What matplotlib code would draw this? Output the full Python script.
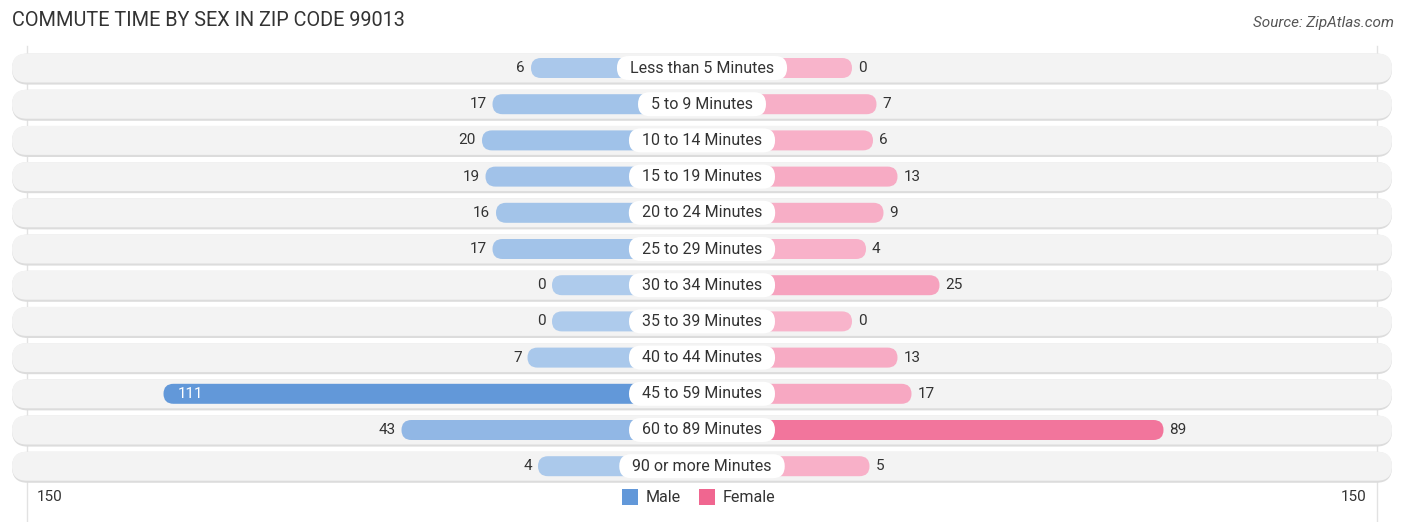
import matplotlib.pyplot as plt
from matplotlib.patches import FancyBboxPatch
import numpy as np

categories = ["Less than 5 Minutes", "5 to 9 Minutes", "10 to 14 Minutes", "15 to 19 Minutes",
              "20 to 24 Minutes", "25 to 29 Minutes", "30 to 34 Minutes", "35 to 39 Minutes",
              "40 to 44 Minutes", "45 to 59 Minutes", "60 to 89 Minutes", "90 or more Minutes"]
male = [6, 17, 20, 19, 16, 17, 0, 0, 7, 111, 43, 4]
female = [0, 7, 6, 13, 9, 4, 25, 0, 13, 17, 89, 5]
axis_max = 150

plt.rcParams['font.family'] = ['Roboto', 'DejaVu Sans']

PX = 3.5          # pixels per unit
CENTER = 702      # pixel of center
OFF = 150 / PX    # base width under the label (units)
ROW0, ROWSTEP = 68, 36.2

fig = plt.figure(figsize=(14.06, 5.22), dpi=100)
ax = fig.add_axes([0, 0, 1, 1])
ax.set_xlim(-CENTER / PX, (1406 - CENTER) / PX)
ax.set_ylim((522 - ROW0) / ROWSTEP, -ROW0 / ROWSTEP)
ax.axis('off')

# aspect so that round ends are circles in pixels
asp = PX / ROWSTEP


def mix(c1, c2, t):
    a = np.array(plt.matplotlib.colors.to_rgb(c1))
    b = np.array(plt.matplotlib.colors.to_rgb(c2))
    return tuple(a + (b - a) * t)


def pill(x0, x1, y, h_px, **kw):
    h = h_px / ROWSTEP
    r = (h_px / 2) / PX
    p = FancyBboxPatch((x0, y - h / 2), x1 - x0, h,
                       boxstyle=f"round,pad=0,rounding_size={r}",
                       mutation_aspect=asp, **kw)
    ax.add_patch(p)
    return p


edge = OFF + axis_max
# grid lines at +-150
for gx in (-edge, edge):
    ax.plot([gx, gx], [-0.6, 12.6], color='#e2e2e2', lw=1, zorder=0)

renderer = fig.canvas.get_renderer()
bg_half = (1392 - CENTER) / PX
vmax = max(max(male), max(female))
for i, cat in enumerate(categories):
    # row background with a faint shadow
    pill(-bg_half, bg_half, i + 0.03, 31, fc='#dcdcdc', ec='none', zorder=1)
    pill(-bg_half, bg_half, i, 29, fc='#f3f3f3', ec='none', zorder=1)

    m, f = male[i], female[i]
    mc = mix('#aecbec', '#6298d9', m / vmax)
    fc = mix('#f8b4cb', '#f06690', f / vmax)
    pill(-(OFF + m), 0, i, 20, fc=mc, ec='none', zorder=2)
    pill(0, OFF + f, i, 20, fc=fc, ec='none', zorder=2)

    t = ax.text(0, i, cat, ha='center', va='center', fontsize=11.5, color='#333333', zorder=5)
    w_px = t.get_window_extent(renderer).width
    half = (w_px / 2 + 13) / PX
    pill(-half, half, i, 24, fc='white', ec='none', zorder=4)

    if m > 80:
        ax.text(-(OFF + m) + 14 / PX, i, str(m), ha='left', va='center', fontsize=11,
                color='white', zorder=3)
    else:
        ax.text(-(OFF + m) - 6 / PX, i, str(m), ha='right', va='center', fontsize=11,
                color='#333333', zorder=3)
    ax.text(OFF + f + 6 / PX, i, str(f), ha='left', va='center', fontsize=11,
            color='#333333', zorder=3)

# axis labels
ybot = (497 - ROW0) / ROWSTEP
ax.text(-edge + 10 / PX, ybot, str(axis_max), ha='left', va='center', fontsize=11, color='#333333')
ax.text(edge - 10 / PX, ybot, str(axis_max), ha='right', va='center', fontsize=11, color='#333333')

# legend
ax.add_patch(plt.Rectangle((-80 / PX, ybot - 8 / ROWSTEP), 16 / PX, 16 / ROWSTEP,
                           fc='#6298d9', ec='none'))
ax.text(-56 / PX, ybot, 'Male', ha='left', va='center', fontsize=11.5, color='#333333')
ax.add_patch(plt.Rectangle((-3 / PX, ybot - 8 / ROWSTEP), 16 / PX, 16 / ROWSTEP,
                           fc='#f06690', ec='none'))
ax.text(21 / PX, ybot, 'Female', ha='left', va='center', fontsize=11.5, color='#333333')

fig.text(12 / 1406, 1 - 21 / 522, 'COMMUTE TIME BY SEX IN ZIP CODE 99013', ha='left', va='center',
         fontsize=14.3, color='#333333')
fig.text(1394 / 1406, 1 - 23 / 522, 'Source: ZipAtlas.com', ha='right', va='center',
         fontsize=11, color='#555555', style='italic')

fig.savefig('out.png', dpi=100)
